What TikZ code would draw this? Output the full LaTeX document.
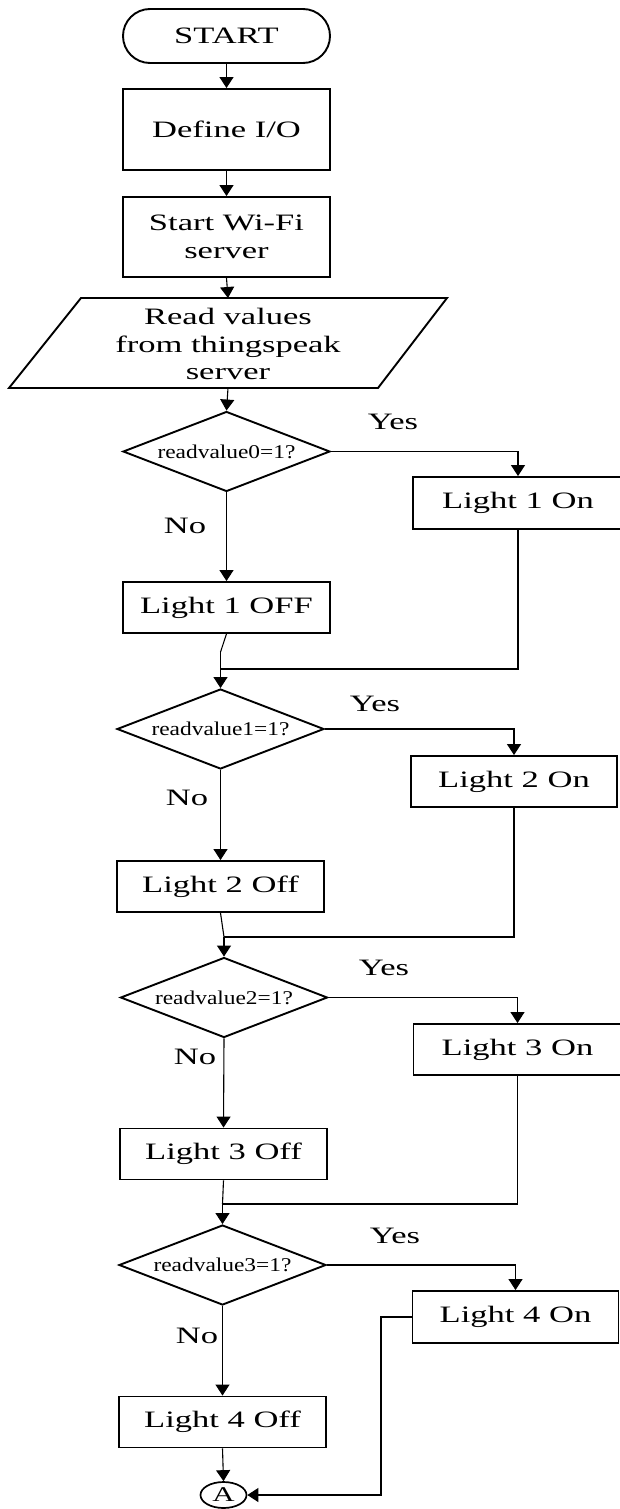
\documentclass[tikz,border=0pt]{standalone}
\usepackage{fontspec}
\setmainfont{Liberation Serif}[FakeStretch=1.47]
\newfontfamily\dfont{Liberation Serif}[FakeStretch=1.2]
\usetikzlibrary{shapes.geometric,arrows.meta}
\begin{document}
\begin{tikzpicture}[x=1pt,y=1pt,
  txt/.style={font=\fontsize{23.5}{27.5}\selectfont},
  box/.style={draw, line width=1.9pt, minimum width=207pt, minimum height=51pt, inner sep=0pt, align=center, txt},
  dec/.style={diamond, draw, line width=1.9pt, aspect=2.5875, minimum width=207pt, minimum height=80pt, inner sep=0pt, font=\dfont\fontsize{19.5}{21}\selectfont},
  conn/.style={line width=1.1pt, -{Triangle[length=11pt,width=14pt]}},
  wire/.style={line width=1.1pt}]
\useasboundingbox (0,0) rectangle (619,-1509);
% nodes
\node[box, rounded corners=27pt, minimum height=54pt] (start) at (226.5,-36) {START};
\node[box, minimum height=81pt] (define) at (226.5,-129.5) {Define I/O};
\node[box, minimum height=80pt] (wifi) at (226.5,-237) {Start Wi-Fi\\server};
\draw[line width=1.9pt] (81,-298) -- (447,-298) -- (378,-388) -- (9,-388) -- cycle;
\node[txt, align=center] (read) at (228,-344) {Read values\\from thingspeak\\server};
\coordinate (readtop) at (228,-298);
\coordinate (readbot) at (228,-388);

\node[dec] (d0) at (226.5,-451.5) {readvalue0=1?};
\node[box, minimum width=210pt, minimum height=52pt] (on1) at (518,-503) {Light 1 On};
\node[box] (off1) at (226.5,-607.5) {Light 1 OFF};
\node[txt] (no0) at (185,-526) {No};
\node[txt] (yes0) at (393,-422) {Yes};

\node[dec] (d1) at (220.5,-729) {readvalue1=1?};
\node[box, minimum width=206pt] (on2) at (514,-781.5) {Light 2 On};
\node[box] (off2) at (220.5,-886.5) {Light 2 Off};
\node[txt] (no1) at (187,-798) {No};
\node[txt] (yes1) at (375,-704) {Yes};

\node[dec] (d2) at (224,-997.5) {readvalue2=1?};
\node[box, minimum width=208pt] (on3) at (517.5,-1049.5) {Light 3 On};
\node[box] (off3) at (223.5,-1154) {Light 3 Off};
\node[txt] (no2) at (195,-1057) {No};
\node[txt] (yes2) at (384,-968) {Yes};

\node[dec] (d3) at (222.5,-1265) {readvalue3=1?};
\node[box, minimum width=206pt, minimum height=52pt] (on4) at (515.5,-1317) {Light 4 On};
\node[box] (off4) at (222.5,-1422) {Light 4 Off};
\node[txt] (no3) at (197,-1336) {No};
\node[txt] (yes3) at (395,-1236) {Yes};

\node[ellipse, draw, line width=1.7pt, minimum width=46pt, minimum height=26pt, inner sep=0pt, font=\fontsize{21}{21}\selectfont] (A) at (223.5,-1495) {A};

% junction coordinates
\coordinate (k1) at (220.5,-652);
\coordinate (m1) at (220.5,-669);
\coordinate (k2) at (224,-937);
\coordinate (k3) at (222.5,-1204);
\coordinate (c4) at (381,-1317);

% connectors
\draw[conn] (start) -- (define);
\draw[conn] (define) -- (wifi);
\draw[conn] (wifi.south) -- (readtop);
\draw[conn] (readbot) -- (d0.north);

\draw[conn] (d0.east) -| (on1.north);
\draw[conn] (d0.south) -- (off1.north);
\draw[wire] (off1.south) -- (k1);
\draw[conn] (k1) -- (d1.north);
\draw[wire] (on1.south) |- (m1);

\draw[conn] (d1.east) -| (on2.north);
\draw[conn] (d1.south) -- (off2.north);
\draw[wire] (off2.south) -- (k2);
\draw[conn] (k2) -- (d2.north);
\draw[wire] (on2.south) |- (k2);

\draw[conn] (d2.east) -| (on3.north);
\draw[conn] (d2.south) -- (off3.north);
\draw[wire] (off3.south) -- (k3);
\draw[conn] (k3) -- (d3.north);
\draw[wire] (on3.south) |- (k3);

\draw[conn] (d3.east) -| (on4.north);
\draw[conn] (d3.south) -- (off4.north);
\draw[conn] (off4.south) -- (A.north);
\draw[conn] (on4.west) -- (c4) |- (A.east);
\end{tikzpicture}
\end{document}
